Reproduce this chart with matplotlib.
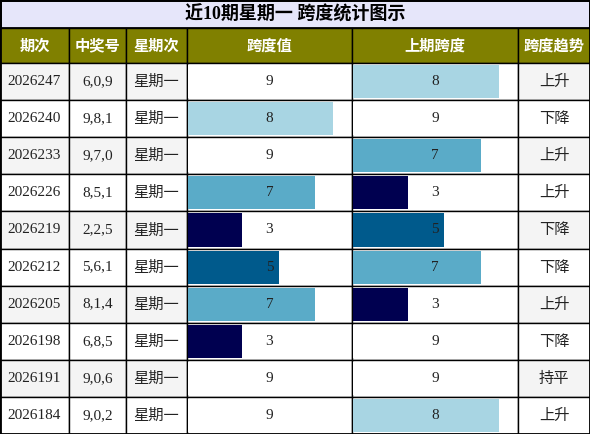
import matplotlib
matplotlib.use("Agg")
import matplotlib.pyplot as plt
from matplotlib.patches import Rectangle

title = "近10期星期一 跨度统计图示"
headers = ["期次", "中奖号", "星期次", "跨度值", "上期跨度", "跨度趋势"]
issues = ["2026247", "2026240", "2026233", "2026226", "2026219",
          "2026212", "2026205", "2026198", "2026191", "2026184"]
numbers = ["6,0,9", "9,8,1", "9,7,0", "8,5,1", "2,2,5",
           "5,6,1", "8,1,4", "6,8,5", "9,0,6", "9,0,2"]
weekday = ["星期一"] * 10
span = [9, 8, 9, 7, 3, 5, 7, 3, 9, 9]
prev_span = [8, 9, 7, 3, 5, 7, 3, 9, 9, 8]
trend = ["上升", "下降", "上升", "上升", "下降", "下降", "上升", "下降", "持平", "上升"]

colors = {9: "#ffffff", 8: "#a8d5e3", 7: "#5aabc8", 5: "#005a8c", 3: "#000050"}

W, H = 590, 434
col_x = [0, 69, 126, 187, 352, 518, 590]
title_h, head_h = 28, 35
row_h = (H - title_h - head_h) / 10

fig = plt.figure(figsize=(W / 100, H / 100), dpi=100)
ax = fig.add_axes([0, 0, 1, 1])
ax.set_xlim(0, W)
ax.set_ylim(H, 0)
ax.axis("off")

cjk = ["Noto Sans CJK SC", "DejaVu Sans"]
serif = ["Liberation Serif", "Noto Sans CJK SC"]

ax.add_patch(Rectangle((0, 0), W, title_h, facecolor="#e6e6fa", edgecolor="black", lw=2))
ax.text(W / 2, title_h / 2, title, ha="center", va="center", fontsize=13,
        fontweight="bold", family=["Liberation Serif", "Noto Sans CJK SC"])

for i, h in enumerate(headers):
    x0, x1 = col_x[i], col_x[i + 1]
    ax.add_patch(Rectangle((x0, title_h), x1 - x0, head_h, facecolor="#808000",
                           edgecolor="black", lw=1))
    ax.text((x0 + x1) / 2, title_h + head_h / 2, h, ha="center", va="center",
            fontsize=11, fontweight="bold", color="white", family=cjk)

for r in range(10):
    y0 = title_h + head_h + r * row_h
    bg = "#f4f4f4" if r % 2 == 0 else "#ffffff"
    vals = [issues[r], numbers[r], weekday[r], span[r], prev_span[r], trend[r]]
    for c in range(6):
        x0, x1 = col_x[c], col_x[c + 1]
        fc = "#ffffff" if c in (3, 4) else bg
        ax.add_patch(Rectangle((x0, y0), x1 - x0, row_h, facecolor=fc,
                               edgecolor="black", lw=1))
        if c in (3, 4):
            v = vals[c]
            bw = (x1 - x0 - 2) * v / 9
            ax.add_patch(Rectangle((x0 + 1, y0 + 2), bw, row_h - 4,
                                   facecolor=colors[v], edgecolor="none"))
            ax.text((x0 + x1) / 2, y0 + row_h / 2, str(v), ha="center", va="center",
                    fontsize=11, family=serif, color="#222222")
        else:
            fam = serif if c < 2 else cjk
            ax.text((x0 + x1) / 2, y0 + row_h / 2, vals[c], ha="center", va="center",
                    fontsize=11, family=fam, color="#222222")

ax.add_patch(Rectangle((0, 0), W, H, facecolor="none", edgecolor="black", lw=2))
fig.savefig("out.png", dpi=100)
